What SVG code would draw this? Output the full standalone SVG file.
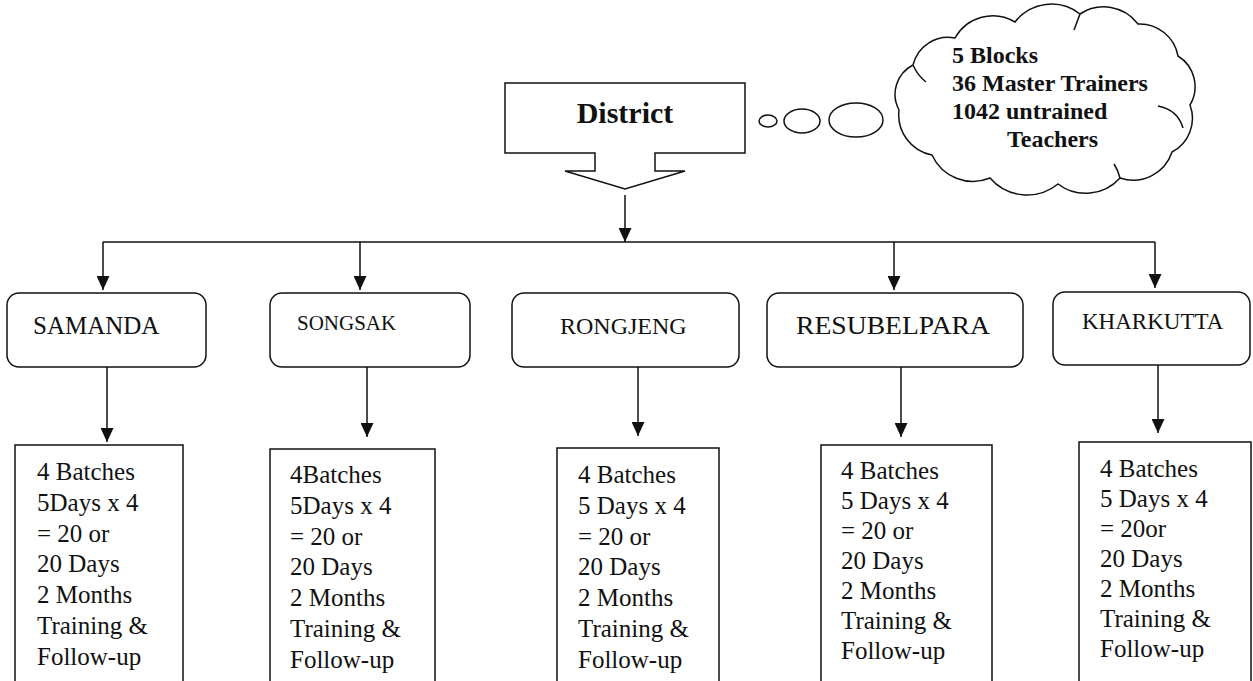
<svg xmlns="http://www.w3.org/2000/svg" width="1253" height="681" viewBox="0 0 1253 681">
<style>
  .ln{fill:none;stroke:#111;stroke-width:1.5}
  .box{fill:#fff;stroke:#111;stroke-width:1.5}
  .t{font-family:"Liberation Serif","Times New Roman",serif;fill:#111}
  .bd{font-size:25px}
  .cl{font-size:24px;font-weight:bold}
</style>
<defs>
  <marker id="ah" markerUnits="userSpaceOnUse" markerWidth="14" markerHeight="13" refX="14" refY="6.5" orient="auto">
    <path d="M0,0 L14,6.5 L0,13 Z" fill="#111"/>
  </marker>
</defs>
<rect width="1253" height="681" fill="#fff"/>

<g id="connectors">
  <line class="ln" x1="625" y1="195" x2="625" y2="242" marker-end="url(#ah)"/>
  <line class="ln" x1="103" y1="242" x2="1155" y2="242"/>
  <line class="ln" x1="103" y1="242" x2="103" y2="290" marker-end="url(#ah)"/>
  <line class="ln" x1="360" y1="242" x2="360" y2="290" marker-end="url(#ah)"/>
  <line class="ln" x1="894" y1="242" x2="894" y2="290" marker-end="url(#ah)"/>
  <line class="ln" x1="1155" y1="242" x2="1155" y2="288" marker-end="url(#ah)"/>
  <line class="ln" x1="107" y1="367" x2="107" y2="442" marker-end="url(#ah)"/>
  <line class="ln" x1="367" y1="367" x2="367" y2="437" marker-end="url(#ah)"/>
  <line class="ln" x1="638" y1="367" x2="638" y2="436" marker-end="url(#ah)"/>
  <line class="ln" x1="901" y1="367" x2="901" y2="437" marker-end="url(#ah)"/>
  <line class="ln" x1="1158" y1="365" x2="1158" y2="433" marker-end="url(#ah)"/>
</g>

<g id="district">
  <path class="box" d="M505,83 H745 V153 H655 V171 H685 L625,189 L565,171 H595 V153 H505 Z"/>
  <text class="t" x="625" y="123" font-size="30" font-weight="bold" text-anchor="middle">District</text>
</g>

<g id="thought">
  <ellipse class="ln" cx="768" cy="121" rx="9" ry="6"/>
  <ellipse class="ln" cx="802" cy="121" rx="18" ry="12"/>
  <ellipse class="ln" cx="856" cy="120" rx="27" ry="17"/>
  <path class="box" d="M899,110 A33,33 0 0 1 913,65 A36,36 0 0 1 955,38 A43,43 0 0 1 1015,22 A46,46 0 0 1 1080,14 A43,43 0 0 1 1138,24 A39,39 0 0 1 1178,56 A36,36 0 0 1 1190,105 A38,38 0 0 1 1172,152 A41,41 0 0 1 1120,178 A46,46 0 0 1 1058,184 A49,49 0 0 1 990,178 A45,45 0 0 1 932,155 A41,41 0 0 1 899,110 Z"/>
  <path class="ln" d="M1158,106 Q1178,110 1183,128"/>
  <path class="ln" d="M913,65 Q918,76 926,82"/>
  <path class="ln" d="M1080,14 Q1077,22 1074,30"/>
  <path class="ln" d="M1120,178 Q1118,170 1114,164"/>
  <text class="t cl" x="952" y="63">5 Blocks</text>
  <text class="t cl" x="952" y="91">36 Master Trainers</text>
  <text class="t cl" x="952" y="119">1042 untrained</text>
  <text class="t cl" x="1007" y="147">Teachers</text>
</g>

<g id="samanda">
  <rect class="box" x="7" y="293" width="199" height="74" rx="12"/>
  <text class="t" x="33" y="334" font-size="25">SAMANDA</text>
</g>
<g id="songsak">
  <rect class="box" x="270" y="293" width="200" height="74" rx="12"/>
  <text class="t" x="297" y="330" font-size="21" fill="#333">SONGSAK</text>
</g>
<g id="rongjeng">
  <rect class="box" x="512" y="293" width="227" height="74" rx="12"/>
  <text class="t" x="560" y="334" font-size="24">RONGJENG</text>
</g>
<g id="resubelpara">
  <rect class="box" x="767" y="293" width="256" height="74" rx="12"/>
  <text class="t" x="796" y="334" font-size="25" textLength="194" lengthAdjust="spacingAndGlyphs">RESUBELPARA</text>
</g>
<g id="kharkutta">
  <rect class="box" x="1053" y="292" width="197" height="73" rx="12"/>
  <text class="t" x="1082" y="329" font-size="23">KHARKUTTA</text>
</g>

<g id="samanda-plan">
  <rect class="box" x="15" y="445" width="168" height="260"/>
  <text class="t bd" x="37" y="480">
    <tspan x="37" dy="0">4 Batches</tspan>
    <tspan x="37" dy="30.8">5Days x 4</tspan>
    <tspan x="37" dy="30.8">= 20 or</tspan>
    <tspan x="37" dy="30.8">20 Days</tspan>
    <tspan x="37" dy="30.8">2 Months</tspan>
    <tspan x="37" dy="30.8">Training &amp;</tspan>
    <tspan x="37" dy="30.8">Follow-up</tspan>
  </text>
</g>
<g id="songsak-plan">
  <rect class="box" x="270" y="449" width="165" height="260"/>
  <text class="t bd" x="290" y="483">
    <tspan x="290" dy="0">4Batches</tspan>
    <tspan x="290" dy="30.8">5Days x 4</tspan>
    <tspan x="290" dy="30.8">= 20 or</tspan>
    <tspan x="290" dy="30.8">20 Days</tspan>
    <tspan x="290" dy="30.8">2 Months</tspan>
    <tspan x="290" dy="30.8">Training &amp;</tspan>
    <tspan x="290" dy="30.8">Follow-up</tspan>
  </text>
</g>
<g id="rongjeng-plan">
  <rect class="box" x="557" y="448" width="162" height="260"/>
  <text class="t bd" x="578" y="483">
    <tspan x="578" dy="0">4 Batches</tspan>
    <tspan x="578" dy="30.8">5 Days x 4</tspan>
    <tspan x="578" dy="30.8">= 20 or</tspan>
    <tspan x="578" dy="30.8">20 Days</tspan>
    <tspan x="578" dy="30.8">2 Months</tspan>
    <tspan x="578" dy="30.8">Training &amp;</tspan>
    <tspan x="578" dy="30.8">Follow-up</tspan>
  </text>
</g>
<g id="resubelpara-plan">
  <rect class="box" x="821" y="445" width="171" height="260"/>
  <text class="t bd" x="841" y="479">
    <tspan x="841" dy="0">4 Batches</tspan>
    <tspan x="841" dy="30">5 Days x 4</tspan>
    <tspan x="841" dy="30">= 20 or</tspan>
    <tspan x="841" dy="30">20 Days</tspan>
    <tspan x="841" dy="30">2 Months</tspan>
    <tspan x="841" dy="30">Training &amp;</tspan>
    <tspan x="841" dy="30">Follow-up</tspan>
  </text>
</g>
<g id="kharkutta-plan">
  <rect class="box" x="1079" y="442" width="172" height="260"/>
  <text class="t bd" x="1100" y="477">
    <tspan x="1100" dy="0">4 Batches</tspan>
    <tspan x="1100" dy="30">5 Days x 4</tspan>
    <tspan x="1100" dy="30">= 20or</tspan>
    <tspan x="1100" dy="30">20 Days</tspan>
    <tspan x="1100" dy="30">2 Months</tspan>
    <tspan x="1100" dy="30">Training &amp;</tspan>
    <tspan x="1100" dy="30">Follow-up</tspan>
  </text>
</g>
</svg>
